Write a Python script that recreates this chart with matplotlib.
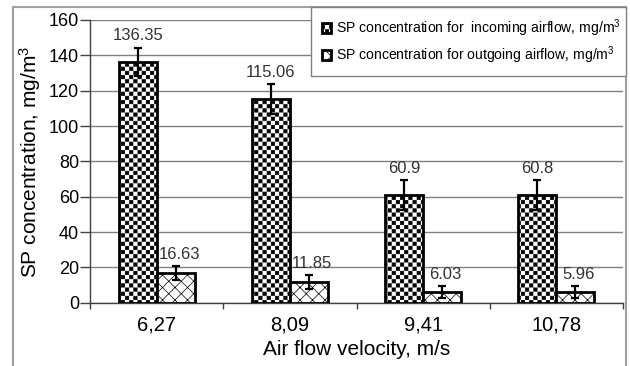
import warnings
warnings.filterwarnings("ignore")
import numpy as np
import matplotlib
matplotlib.use("Agg")
import matplotlib.pyplot as plt
import matplotlib.hatch as mhatch
from matplotlib.path import Path
from matplotlib.patches import Rectangle

# ---- data ----
categories = ['6,27', '8,09', '9,41', '10,78']
incoming = [136.35, 115.06, 60.9, 60.8]
outgoing = [16.63, 11.85, 6.03, 5.96]
err_in = [8.0, 8.5, 8.5, 8.5]
err_out = [4.0, 4.0, 3.5, 3.5]
label_in = 'SP concentration for  incoming airflow, mg/m$^3$'
label_out = 'SP concentration for outgoing airflow, mg/m$^3$'
yticks = [0, 20, 40, 60, 80, 100, 120, 140, 160]

# ---- custom hatches ----
HATCH_LW = 0.5
_shrink = 0.004


class CheckerHatch(mhatch.HatchPatternBase):
    def __init__(self, hatch, density):
        n = hatch.count('c') * density
        self.n = n - n % 2
        self.num_vertices = (self.n * self.n // 2) * 5 if self.n else 0

    def set_vertices_and_codes(self, vertices, codes):
        n = self.n
        s = 1.0 / n
        e = _shrink
        parts = []
        for i in range(n):
            for j in range(n):
                if (i + j) % 2 == 0:
                    x0, y0 = i * s + e, j * s + e
                    x1, y1 = (i + 1) * s - e, (j + 1) * s - e
                    parts.append([[x0, y0], [x1, y0], [x1, y1], [x0, y1], [x0, y0]])
        vertices[:] = np.array(parts, dtype=float).reshape(-1, 2)
        codes[:] = np.tile([Path.MOVETO, Path.LINETO, Path.LINETO,
                            Path.LINETO, Path.CLOSEPOLY], len(parts))


class DiagCross(mhatch.HatchPatternBase):
    def __init__(self, hatch, density):
        self.n = hatch.count('k') * 8
        self.num_vertices = (2 * self.n + 1) * 2 * 2 if self.n else 0

    def set_vertices_and_codes(self, vertices, codes):
        cs = np.linspace(-1.0, 1.0, 2 * self.n + 1)
        v = []
        for c in cs:
            v.append([c, 0.0])
            v.append([c + 1.0, 1.0])
        for c in cs:
            v.append([c, 1.0])
            v.append([c + 1.0, 0.0])
        vertices[:] = np.array(v)
        codes[0::2] = Path.MOVETO
        codes[1::2] = Path.LINETO


mhatch._hatch_types.append(CheckerHatch)
mhatch._hatch_types.append(DiagCross)
try:
    mhatch._validate_hatch_pattern = lambda h: None
except Exception:
    pass

plt.rcParams['font.family'] = ['Liberation Sans', 'DejaVu Sans']
plt.rcParams['mathtext.fontset'] = 'custom'
plt.rcParams['mathtext.rm'] = 'Liberation Sans'
plt.rcParams['mathtext.it'] = 'Liberation Sans'
plt.rcParams['hatch.linewidth'] = HATCH_LW
plt.rcParams['hatch.color'] = 'black'

fig = plt.figure(figsize=(6.3, 3.66), dpi=100)
ax = fig.add_axes([90 / 630, 1 - 302.7 / 366, (623 - 90) / 630, (302.7 - 20) / 366])

x = np.arange(len(categories))
w = 0.285
b1 = ax.bar(x - w / 2, incoming, w, color='white', edgecolor='black',
            linewidth=2, hatch='cccc', label=label_in, zorder=3)
b2 = ax.bar(x + w / 2, outgoing, w, color='white', edgecolor='black',
            linewidth=2, hatch='k', label=label_out, zorder=3)
ax.errorbar(x - w / 2, incoming, yerr=err_in, fmt='none', ecolor='black',
            elinewidth=1.6, capsize=3, capthick=1.6, zorder=4)
ax.errorbar(x + w / 2, outgoing, yerr=err_out, fmt='none', ecolor='black',
            elinewidth=1.6, capsize=3, capthick=1.6, zorder=4)

for xi, v, e in zip(x - w / 2, incoming, err_in):
    ax.annotate(f'{v:g}', (xi, v + e), xytext=(0, 3), textcoords='offset points',
                ha='center', va='bottom', fontsize=12, color='#333333')
for xi, v, e in zip(x + w / 2, outgoing, err_out):
    ax.annotate(f'{v:g}', (xi, v + e), xytext=(2.5, 3), textcoords='offset points',
                ha='center', va='bottom', fontsize=12, color='#333333')

ax.set_xlim(-0.5, len(categories) - 0.5)
ax.set_ylim(0, 160)
ax.set_yticks(yticks)
ax.tick_params(axis='y', labelsize=13, length=7, width=1, color='#404040', pad=1)
ax.set_xticks(x)
ax.set_xticklabels(categories)
ax.tick_params(axis='x', labelsize=14.5, length=0, pad=9)
ax.set_xticks(np.arange(len(categories) + 1) - 0.5, minor=True)
ax.tick_params(axis='x', which='minor', length=4, width=1, color='#404040')
ax.grid(axis='y', color='#808080', linewidth=1, zorder=0)
ax.set_axisbelow(True)
for sp in ['top', 'right']:
    ax.spines[sp].set_visible(False)
for sp in ['left', 'bottom']:
    ax.spines[sp].set_color('#404040')
    ax.spines[sp].set_linewidth(1)

ax.set_xlabel('Air flow velocity, m/s', fontsize=15, labelpad=4)
ax.set_ylabel('SP concentration, mg/m$^3$', fontsize=15)
ax.yaxis.set_label_coords((43 - 90) / 533, 0.5)

leg = fig.legend(handles=[b1, b2], loc='upper left',
                 bbox_to_anchor=(311 / 630, 1 - 65 / 366, (626 - 311) / 630, 58 / 366),
                 mode='expand', fontsize=10.1, frameon=True, fancybox=False,
                 edgecolor='#808080', framealpha=1, handlelength=0.7,
                 handleheight=0.7, handletextpad=0.35, borderpad=0.75,
                 labelspacing=0.35, borderaxespad=0)
leg.get_frame().set_linewidth(1)

# outer frame
fig.add_artist(Rectangle((13 / 630, -0.05), (626 - 13) / 630, 1.05 - 7 / 366,
                         transform=fig.transFigure, fill=False,
                         edgecolor='#a0a0a0', linewidth=1.5, zorder=-1))

fig.savefig('out.png', dpi=100)
